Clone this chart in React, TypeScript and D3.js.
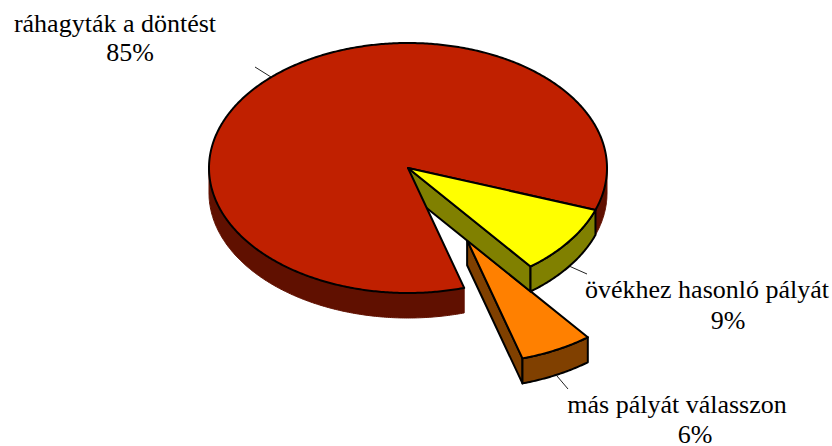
import React from "react";
import * as D3 from "d3";

const categories = ["ráhagyták a döntést", "övékhez hasonló pályát", "más pályát válasszon"];
const values = [85, 9, 6];
const valueLabels = ["85%", "9%", "6%"];
const topColors = ["#c02000", "#ffff00", "#ff8000"];
const sideColors = ["#601000", "#808000", "#804000"];
const explode = [0, 0, 0.65];
const radii = [1, 1, 0.985];
const labelPos: [number, number][] = [[115, 32], [707, 298], [677, 413]];
const valuePos: [number, number][] = [[130, 61], [728, 329], [695, 443]];
const leaders: [number, number, number, number][] = [[255, 67, 271, 77], [569, 266, 587, 274], [557, 376, 568, 389]];

const cx = 408, cy = 168, rx = 199, ry = 125, depth = 25;
const px = D3.scaleLinear().domain([-1, 1]).range([cx - rx, cx + rx]);
const py = D3.scaleLinear().domain([-1, 1]).range([cy - ry, cy + ry]);
const line = D3.line();

type Pt = [number, number];
const pie = D3.pie<number>().sort(null).startAngle((-196.4 * Math.PI) / 180).endAngle(((360 - 196.4) * Math.PI) / 180);
const slices = pie(values);

function shift(i: number): Pt {
  const m = (slices[i].startAngle + slices[i].endAngle) / 2;
  return [px(Math.sin(m) * explode[i]) - cx, py(-Math.cos(m) * explode[i]) - cy];
}
function pt(i: number, a: number, dz = 0): Pt {
  const [sx, sy] = shift(i);
  return [px(Math.sin(a) * radii[i]) + sx, py(-Math.cos(a) * radii[i]) + sy + dz];
}
function arcPts(i: number, a0: number, a1: number, dz = 0): Pt[] {
  const n = Math.max(2, Math.ceil(Math.abs(a1 - a0) / 0.01));
  return D3.range(n + 1).map((k) => pt(i, a0 + ((a1 - a0) * k) / n, dz));
}
function centre(i: number, dz = 0): Pt {
  const [sx, sy] = shift(i);
  return [cx + sx, cy + sy + dz];
}
function topPath(i: number) {
  const s = slices[i];
  return line([centre(i), ...arcPts(i, s.startAngle, s.endAngle)])! + "Z";
}
function wall(i: number, a0: number, a1: number) {
  return line([...arcPts(i, a0, a1), ...arcPts(i, a1, a0, depth)])! + "Z";
}
function cutFace(i: number, a: number) {
  return line([centre(i), pt(i, a), pt(i, a, depth), centre(i, depth)])! + "Z";
}

const q = Math.PI / 2;
const stroke = { stroke: "#000", strokeWidth: 2, strokeLinejoin: "round" as const };
const serif = "'Liberation Serif'";

export default function App() {
  const red = slices[0], yel = slices[1], ora = slices[2];
  return (
    <svg width={832} height={446} style={{ position: "fixed", left: 0, top: 0, background: "#fff" }}>
      {leaders.map((l, i) => (
        <line key={i} x1={l[0]} y1={l[1]} x2={l[2]} y2={l[3]} stroke="#222" strokeWidth={1} />
      ))}
      <path d={wall(0, red.startAngle, -q)} fill={sideColors[0]} strokeWidth={1} stroke={sideColors[0]} />
      <path d={wall(0, q, red.endAngle)} fill={sideColors[0]} strokeWidth={1} stroke={sideColors[0]} />
      <path d={cutFace(2, ora.endAngle)} fill={sideColors[2]} {...stroke} />
      <path d={wall(2, ora.startAngle, ora.endAngle)} fill={sideColors[2]} {...stroke} />
      <path d={topPath(2)} fill={topColors[2]} {...stroke} />
      <path d={cutFace(1, yel.endAngle)} fill={sideColors[1]} {...stroke} />
      <path d={wall(1, yel.startAngle, yel.endAngle)} fill={sideColors[1]} {...stroke} />
      <path d={topPath(0)} fill={topColors[0]} {...stroke} />
      <path d={topPath(1)} fill={topColors[1]} {...stroke} />
      {categories.map((c, i) => (
        <g key={c} fontFamily={serif} fontSize={26} fill="#000" textAnchor="middle">
          <text x={labelPos[i][0]} y={labelPos[i][1]}>{c}</text>
          <text x={valuePos[i][0]} y={valuePos[i][1]}>{valueLabels[i]}</text>
        </g>
      ))}
    </svg>
  );
}
